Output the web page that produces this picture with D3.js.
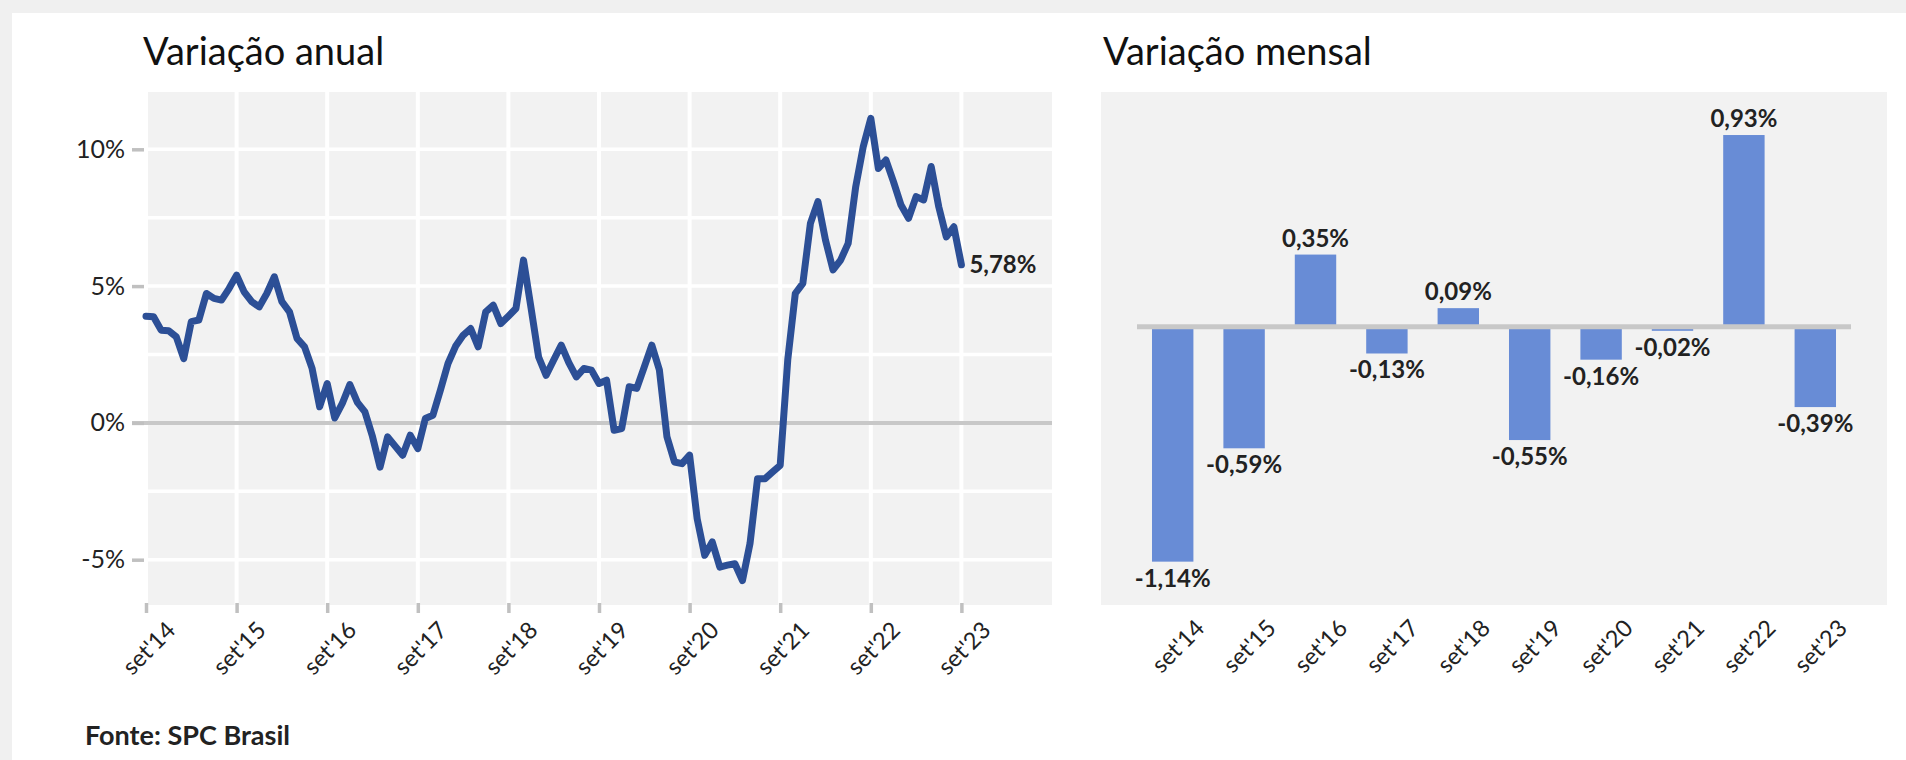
<!DOCTYPE html>
<html>
<head>
<meta charset="utf-8">
<script src="https://cdn.jsdelivr.net/npm/d3@7"></script>
<style>
  body { margin: 0; background: #f0f0f0; }
  svg { display: block; font-family: Lato, "Open Sans", sans-serif; }
</style>
</head>
<body>
<svg id="chart" width="1906" height="760"></svg>
<script>
// annual variation, monthly points from set'14 to set'23
const annualValues = [
  3.90, 3.88, 3.39, 3.37, 3.15, 2.35, 3.70, 3.76, 4.73, 4.55, 4.49, 4.91,
  5.40, 4.79, 4.43, 4.24, 4.73, 5.34, 4.43, 4.06, 3.09, 2.78, 1.99, 0.59,
  1.44, 0.18, 0.71, 1.40, 0.75, 0.40, -0.50, -1.62, -0.51, -0.85, -1.18, -0.45,
  -0.94, 0.16, 0.28, 1.20, 2.17, 2.80, 3.20, 3.45, 2.78, 4.06, 4.30, 3.63,
  3.90, 4.18, 5.95, 4.20, 2.41, 1.74, 2.30, 2.84, 2.20, 1.68, 1.99, 1.93,
  1.44, 1.56, -0.27, -0.21, 1.32, 1.26, 2.05, 2.84, 1.93, -0.51, -1.43, -1.49,
  -1.18, -3.50, -4.84, -4.35, -5.27, -5.20, -5.15, -5.76, -4.41, -2.04, -2.04, -1.79,
  -1.55, 2.30, 4.73, 5.10, 7.29, 8.09, 6.68, 5.59, 5.95, 6.56, 8.63, 10.10,
  11.13, 9.30, 9.61, 8.82, 7.96, 7.48, 8.27, 8.15, 9.37, 7.90, 6.80, 7.17,
  5.78
];
const yearLabels = ["set'14", "set'15", "set'16", "set'17", "set'18", "set'19", "set'20", "set'21", "set'22", "set'23"];
const annualTicks = [-5, 0, 5, 10];
const annualGrid = [-5, -2.5, 2.5, 5, 7.5, 10];

// monthly variation (september of each year)
const monthlyValues = [-1.14, -0.59, 0.35, -0.13, 0.09, -0.55, -0.16, -0.02, 0.93, -0.39];

const fmt = v => d3.format(".2f")(v).replace(".", ",").replace("\u2212", "-") + "%";

const svg = d3.select("#chart");

// white card
svg.append("rect").attr("x", 12).attr("y", 13).attr("width", 1894).attr("height", 747).attr("fill", "#fff");

// ---------- left: Variação anual ----------
const x = d3.scaleLinear().domain([0, 120]).range([146, 1052]);
const y = d3.scaleLinear().domain([-5, 10]).range([559.7, 149.3]);

svg.append("text")
    .attr("x", 143).attr("y", 65)
    .attr("font-size", 38).attr("fill", "#111")
    .text("Variação anual");

svg.append("rect")
    .attr("x", 146).attr("y", 92)
    .attr("width", 906).attr("height", 513)
    .attr("fill", "#f2f2f2");

const left = svg.append("g");

left.selectAll(".hgrid")
    .data(annualGrid)
    .enter().append("line")
    .attr("x1", 146).attr("x2", 1052)
    .attr("y1", d => y(d)).attr("y2", d => y(d))
    .attr("stroke", "#fff").attr("stroke-width", 3.5);

left.selectAll(".vgrid")
    .data(yearLabels.map((d, i) => i * 12))
    .enter().append("line")
    .attr("x1", d => x(d)).attr("x2", d => x(d))
    .attr("y1", 92).attr("y2", 605)
    .attr("stroke", "#fff").attr("stroke-width", 4);

// y axis
const yAxis = svg.append("g")
    .attr("transform", "translate(144,0)")
    .call(d3.axisLeft(y).tickValues(annualTicks).tickFormat(d => d + "%").tickSize(12).tickPadding(7));
yAxis.select(".domain").remove();
yAxis.selectAll(".tick line").attr("stroke", "#c0c0c0").attr("stroke-width", 3.5);
yAxis.selectAll(".tick text")
    .attr("font-size", 25).attr("fill", "#222")
    .attr("font-family", "Lato, 'Open Sans', sans-serif");

// zero line
left.append("line")
    .attr("x1", 132).attr("x2", 1052)
    .attr("y1", y(0)).attr("y2", y(0))
    .attr("stroke", "#c8c8c8").attr("stroke-width", 4);

// x axis
const xAxis = svg.append("g")
    .attr("transform", "translate(0,603)")
    .call(d3.axisBottom(x).tickValues(yearLabels.map((d, i) => i * 12)).tickFormat((d, i) => yearLabels[i]).tickSize(10));
xAxis.select(".domain").remove();
xAxis.selectAll(".tick line").attr("stroke", "#c0c0c0").attr("stroke-width", 3.5);
xAxis.selectAll(".tick text")
    .attr("font-size", 23.5).attr("fill", "#222")
    .attr("font-family", "Lato, 'Open Sans', sans-serif")
    .attr("text-anchor", "middle")
    .attr("x", 8).attr("y", 51).attr("dy", 0)
    .attr("transform", "rotate(-45, 8, 51)");

const line = d3.line()
    .x((d, i) => x(i))
    .y(d => y(d));

left.append("path")
    .datum(annualValues)
    .attr("d", line)
    .attr("fill", "none")
    .attr("stroke", "#2c4f96")
    .attr("stroke-width", 7)
    .attr("stroke-linejoin", "round")
    .attr("stroke-linecap", "round");

const last = annualValues.length - 1;
left.append("text")
    .attr("x", x(last) + 8).attr("y", y(annualValues[last]))
    .attr("dy", "0.35em")
    .attr("font-size", 24).attr("font-weight", "bold").attr("fill", "#222")
    .text(fmt(annualValues[last]));

// ---------- right: Variação mensal ----------
const xb = d3.scaleBand().domain(yearLabels).range([1137, 1851]).paddingInner(0.42).paddingOuter(0.21);
const yb = d3.scaleLinear().domain([0, 1]).range([326.7, 120.6]);

svg.append("text")
    .attr("x", 1103).attr("y", 65)
    .attr("font-size", 38).attr("fill", "#111")
    .text("Variação mensal");

svg.append("rect")
    .attr("x", 1101).attr("y", 92)
    .attr("width", 786).attr("height", 513)
    .attr("fill", "#f2f2f2");

const right = svg.append("g");

right.selectAll(".bar")
    .data(monthlyValues)
    .enter().append("rect")
    .attr("class", "bar")
    .attr("x", (d, i) => xb(yearLabels[i]))
    .attr("y", d => yb(Math.max(0, d)))
    .attr("width", xb.bandwidth())
    .attr("height", d => Math.abs(yb(d) - yb(0)))
    .attr("fill", "#688cd6");

right.append("line")
    .attr("x1", 1137).attr("x2", 1851)
    .attr("y1", yb(0)).attr("y2", yb(0))
    .attr("stroke", "#c8c8c8").attr("stroke-width", 5);

right.selectAll(".label")
    .data(monthlyValues)
    .enter().append("text")
    .attr("class", "label")
    .attr("x", (d, i) => xb(yearLabels[i]) + xb.bandwidth() / 2)
    .attr("y", d => d >= 0 ? yb(d) - 8 : yb(d) + 25)
    .attr("text-anchor", "middle")
    .attr("font-size", 24).attr("font-weight", "bold").attr("fill", "#222")
    .text(d => fmt(d));

const xbAxis = svg.append("g")
    .attr("transform", "translate(0,603)")
    .call(d3.axisBottom(xb).tickSize(0));
xbAxis.select(".domain").remove();
xbAxis.selectAll(".tick text")
    .attr("font-size", 23.5).attr("fill", "#222")
    .attr("font-family", "Lato, 'Open Sans', sans-serif")
    .attr("text-anchor", "middle")
    .attr("x", 11).attr("y", 49).attr("dy", 0)
    .attr("transform", "rotate(-45, 11, 49)");

// source
svg.append("text")
    .attr("x", 85).attr("y", 745)
    .attr("font-size", 27).attr("font-weight", "bold").attr("fill", "#222")
    .text("Fonte: SPC Brasil");
</script>
</body>
</html>
